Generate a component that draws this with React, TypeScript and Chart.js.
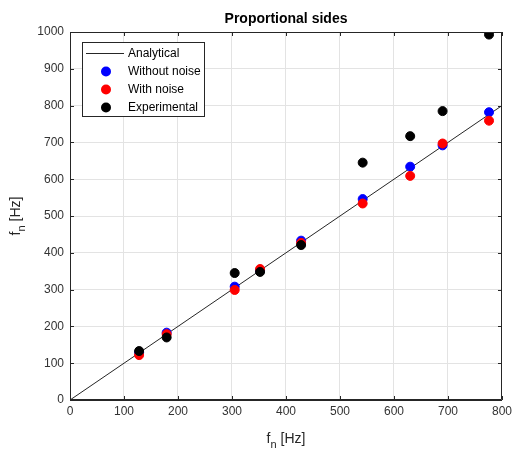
import React, { useEffect, useRef } from "react";
import { Chart, registerables } from "chart.js";

Chart.register(...registerables);

const xFreq = [128, 179, 305, 352, 428, 542, 630, 690, 776];
const withoutNoise = [129, 183, 308, 352, 433, 546, 634, 692, 782];
const withNoise = [122, 179, 299, 356, 427, 534, 609, 697, 759];
const experimental = [133, 170, 345, 348, 421, 645, 717, 785, 993];
const analyticalX = [0, 800];
const analyticalY = [0, 800];
const seriesNames = ["Analytical", "Without noise", "With noise", "Experimental"];
const titleText = "Proportional sides";

const FONT = "'Liberation Sans', Arial, Helvetica, sans-serif";
const AXIS = "#262626";

function pts(xs: number[], ys: number[]) {
  return xs.map((x, i) => ({ x, y: ys[i] }));
}

const decorPlugin = {
  id: "decor",
  afterDatasetsDraw(chart: any) {
    const { ctx, chartArea: a, scales } = chart;
    ctx.save();
    ctx.strokeStyle = AXIS;
    ctx.lineWidth = 1;
    ctx.beginPath();
    ctx.rect(Math.round(a.left) + 0.5, Math.round(a.top) + 0.5, Math.round(a.right - a.left) - 1, Math.round(a.bottom - a.top) - 1);
    ctx.stroke();
    const tl = 4;
    ctx.beginPath();
    scales.x.ticks.forEach((t: any) => {
      const px = Math.round(scales.x.getPixelForValue(t.value)) + 0.5;
      ctx.moveTo(px, a.bottom);
      ctx.lineTo(px, a.bottom - tl);
      ctx.moveTo(px, a.top);
      ctx.lineTo(px, a.top + tl);
    });
    scales.y.ticks.forEach((t: any) => {
      const py = Math.round(scales.y.getPixelForValue(t.value)) + 0.5;
      ctx.moveTo(a.left, py);
      ctx.lineTo(a.left + tl, py);
      ctx.moveTo(a.right, py);
      ctx.lineTo(a.right - tl, py);
    });
    ctx.stroke();
    ctx.restore();
  },
  afterDraw(chart: any) {
    const { ctx, chartArea: a } = chart;
    ctx.save();
    ctx.fillStyle = "#000";
    ctx.font = `bold 14px ${FONT}`;
    ctx.textAlign = "center";
    ctx.textBaseline = "alphabetic";
    const cx = (a.left + a.right) / 2;
    ctx.fillText(titleText, cx, 23);

    const drawSubLabel = (x: number, y: number) => {
      ctx.font = `14px ${FONT}`;
      const wf = ctx.measureText("f").width;
      ctx.font = `11px ${FONT}`;
      const wn = ctx.measureText("n").width;
      ctx.font = `14px ${FONT}`;
      const wr = ctx.measureText(" [Hz]").width;
      const total = wf + wn + wr;
      let sx = x - total / 2;
      ctx.textAlign = "left";
      ctx.fillStyle = AXIS;
      ctx.fillText("f", sx, y);
      sx += wf;
      ctx.font = `11px ${FONT}`;
      ctx.fillText("n", sx, y + 5);
      sx += wn;
      ctx.font = `14px ${FONT}`;
      ctx.fillText(" [Hz]", sx, y);
    };
    drawSubLabel(cx, 443);
    ctx.save();
    ctx.translate(20, (a.top + a.bottom) / 2);
    ctx.rotate(-Math.PI / 2);
    drawSubLabel(0, 0);
    ctx.restore();

    const lx = 82.5, ly = 42.5, lw = 122, lh = 74;
    ctx.fillStyle = "#fff";
    ctx.fillRect(lx, ly, lw, lh);
    ctx.strokeStyle = AXIS;
    ctx.lineWidth = 1;
    ctx.strokeRect(lx, ly, lw, lh);
    const rows = [53.5, 71.5, 89.5, 107.5];
    const ds = chart.data.datasets;
    ctx.font = `12px ${FONT}`;
    ctx.textBaseline = "middle";
    ctx.textAlign = "left";
    seriesNames.forEach((name, i) => {
      const y = rows[i];
      const d = ds[i];
      if (i === 0) {
        ctx.strokeStyle = d.borderColor;
        ctx.beginPath();
        ctx.moveTo(86, y);
        ctx.lineTo(124, y);
        ctx.stroke();
      } else {
        ctx.fillStyle = d.backgroundColor;
        ctx.beginPath();
        ctx.arc(106, y, 5, 0, Math.PI * 2);
        ctx.fill();
      }
      ctx.fillStyle = "#000";
      ctx.fillText(name, 128, y + 0.5);
    });
    ctx.restore();
  },
};

export default function App() {
  const ref = useRef<HTMLCanvasElement | null>(null);
  useEffect(() => {
    if (!ref.current) return;
    const chart = new Chart(ref.current, {
      type: "scatter",
      data: {
        datasets: [
          {
            label: seriesNames[0],
            data: pts(analyticalX, analyticalY),
            showLine: true,
            borderColor: "#262626",
            backgroundColor: "#262626",
            borderWidth: 1,
            pointRadius: 0,
            order: 3,
          },
          {
            label: seriesNames[1],
            data: pts(xFreq, withoutNoise),
            backgroundColor: "#0000ff",
            borderColor: "#0000ff",
            pointRadius: 4.5,
            pointBorderWidth: 1,
            order: 2,
          },
          {
            label: seriesNames[2],
            data: pts(xFreq, withNoise),
            backgroundColor: "#ff0000",
            borderColor: "#ff0000",
            pointRadius: 4.5,
            pointBorderWidth: 1,
            order: 1,
          },
          {
            label: seriesNames[3],
            data: pts(xFreq, experimental),
            backgroundColor: "#000000",
            borderColor: "#000000",
            pointRadius: 4.5,
            pointBorderWidth: 1,
            order: 0,
          },
        ] as any,
      },
      options: {
        responsive: false,
        animation: false,
        devicePixelRatio: 1,
        layout: { padding: { left: 0, right: 12, top: 32, bottom: 0 } },
        plugins: {
          legend: { display: false },
          title: { display: false },
          tooltip: { enabled: false },
        },
        scales: {
          x: {
            type: "linear",
            min: 0,
            max: 800,
            ticks: { stepSize: 100, color: "#333", font: { family: FONT, size: 12 }, padding: 4, maxRotation: 0, callback: (v: any) => String(v) },
            grid: { color: "#e3e3e3", drawTicks: false },
            border: { color: AXIS },
            afterFit: (s: any) => { s.height = 51; },
          },
          y: {
            type: "linear",
            min: 0,
            max: 1000,
            ticks: { stepSize: 100, color: "#333", font: { family: FONT, size: 12 }, padding: 6, callback: (v: any) => String(v) },
            grid: { color: "#e3e3e3", drawTicks: false },
            border: { color: AXIS },
            afterFit: (s: any) => { s.width = 70; },
          },
        },
      } as any,
      plugins: [decorPlugin],
    });
    return () => chart.destroy();
  }, []);
  return (
    <div style={{ position: "fixed", left: 0, top: 0, width: 516, height: 451, background: "#fff" }}>
      <canvas ref={ref} width={516} height={451} style={{ width: 516, height: 451 }} />
    </div>
  );
}
